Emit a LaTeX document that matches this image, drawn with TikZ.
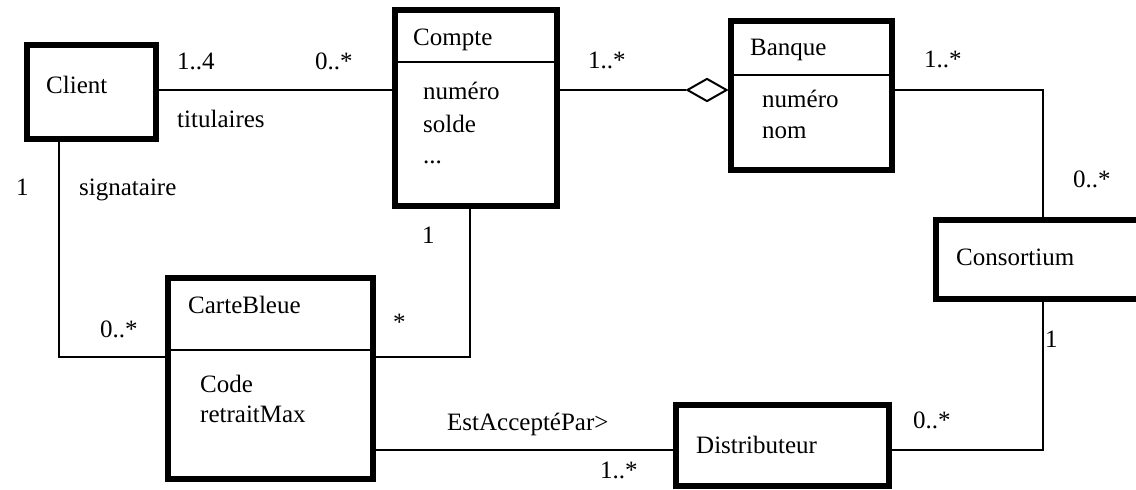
\documentclass[tikz,border=0pt]{standalone}
\usepackage{fontspec}
\setmainfont{Liberation Serif}
\usetikzlibrary{shapes.geometric}
\begin{document}
\begin{tikzpicture}[x=1pt,y=-1pt,
  cls/.style={draw,line width=6pt,rectangle,inner sep=0pt},
  link/.style={line width=2pt},
  txt/.style={anchor=base west,inner sep=0pt,font=\fontsize{25}{30}\selectfont}]
\useasboundingbox (0,0) rectangle (1136,490);
\clip (0,0) rectangle (1136,490);
% class boxes
\node[cls,minimum width=129pt,minimum height=94pt] (client) at (91.5,92) {};
\node[cls,minimum width=162pt,minimum height=196pt] (compte) at (476,108) {};
\node[cls,minimum width=161pt,minimum height=149pt] (banque) at (811.5,95.5) {};
\node[cls,minimum width=224pt,minimum height=79pt] (consortium) at (1048,259.5) {};
\node[cls,minimum width=205pt,minimum height=201pt] (carte) at (270.5,378.5) {};
\node[cls,minimum width=213pt,minimum height=81pt] (distrib) at (782.5,445.5) {};
% compartment dividers
\coordinate (d1) at (0,62);
\coordinate (d2) at (0,75);
\coordinate (d3) at (0,350);
\draw[link] (compte.west |- d1) -- (compte.east |- d1);
\draw[link] (banque.west |- d2) -- (banque.east |- d2);
\draw[link] (carte.west |- d3) -- (carte.east |- d3);
% aggregation diamond
\coordinate (ag) at (0,90);
\node[draw,diamond,line width=2pt,inner sep=0pt,minimum width=40pt,minimum height=23pt,aspect=1.7,anchor=east,fill=white]
  (agg) at (banque.west |- ag) {};
% routing points
\coordinate (k1) at (1043,90);
\coordinate (k2) at (1043,450);
\coordinate (k3) at (59,357);
\coordinate (k4) at (470,357);
% connectors
\draw[link] (client.east |- ag) -- (compte.west |- ag);
\draw[link] (compte.east |- agg.west) -- (agg.west);
\draw[link] (banque.east |- k1) -- (k1) -- (k1 |- consortium.north);
\draw[link] (k1 |- consortium.south) -- (k2) -- (k2 -| distrib.east);
\draw[link] (k2 -| carte.east) -- (k2 -| distrib.west);
\draw[link] (k3 |- client.south) -- (k3) -- (k3 -| carte.west);
\draw[link] (k4 |- compte.south) -- (k4) -- (k4 -| carte.east);
% class texts
\node[txt] (tClient) at (46,93) {Client};
\node[txt] (tCompte) at (413,45) {Compte};
\node[txt] (tC1) at (423,99) {numéro};
\node[txt] (tC2) at (423,132) {solde};
\node[txt] (tC3) at (423,163) {...};
\node[txt] (tBanque) at (750,55) {Banque};
\node[txt] (tB1) at (762,107) {numéro};
\node[txt] (tB2) at (762,138) {nom};
\node[txt] (tCons) at (956,265) {Consortium};
\node[txt] (tCarte) at (188,313) {CarteBleue};
\node[txt] (tK1) at (200,392) {Code};
\node[txt] (tK2) at (200,422) {retraitMax};
\node[txt] (tDist) at (696,453) {Distributeur};
% association labels
\node[txt] (m1) at (177,69) {1..4};
\node[txt] (m2) at (315,69) {0..*};
\node[txt] (r1) at (177,127) {titulaires};
\node[txt] (m3) at (16,195) {1};
\node[txt] (r2) at (79,195) {signataire};
\node[txt] (m4) at (588,68) {1..*};
\node[txt] (m5) at (924,67) {1..*};
\node[txt] (m6) at (1073,187) {0..*};
\node[txt] (m7) at (1045,347) {1};
\node[txt] (m8) at (913,428) {0..*};
\node[txt] (m9) at (600,478) {1..*};
\node[txt] (r3) at (447,430) {EstAcceptéPar>};
\node[txt] (m10) at (422,243) {1};
\node[txt] (m11) at (393,330) {*};
\node[txt] (m12) at (100,337) {0..*};
\end{tikzpicture}
\end{document}
